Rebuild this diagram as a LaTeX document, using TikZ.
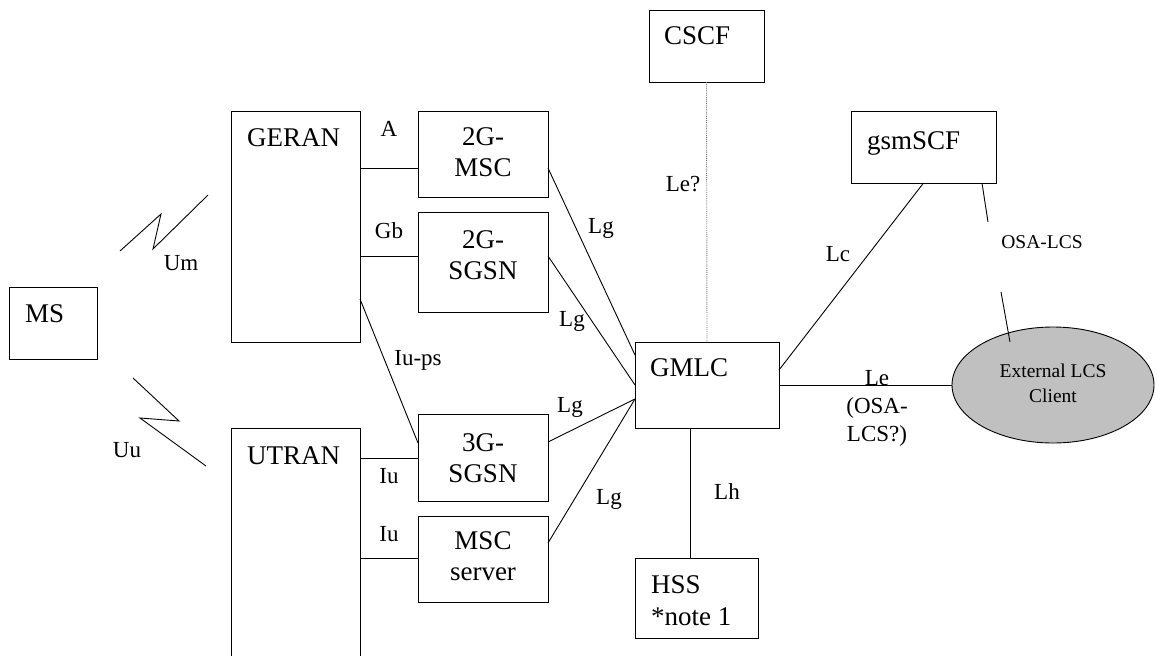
\documentclass[tikz,border=0pt]{standalone}
\usepackage{fontspec}
\setmainfont{Liberation Serif}
\usetikzlibrary{shapes.geometric,calc}
\definecolor{clientgray}{RGB}{192,192,192}
\begin{document}
\begin{tikzpicture}[x=1pt,y=-1pt,
  box/.style={draw,line width=0.9pt,inner sep=0pt,outer sep=0pt,anchor=north west},
  boxtext/.style={font=\fontsize{27}{31}\selectfont,inner sep=0pt},
  lbl/.style={font=\fontsize{23}{28}\selectfont,inner sep=0pt},
  smalltext/.style={font=\fontsize{19.5}{25}\selectfont,inner sep=0pt},
  link/.style={line width=0.9pt},
  dotlink/.style={line width=0.9pt,densely dotted,black!55}]
\useasboundingbox (0,0) rectangle (1157,656);

% boxes
\node[box,minimum width=88pt,minimum height=72pt] (ms) at (9,287) {};
\node[box,minimum width=129pt,minimum height=231pt] (geran) at (231,111) {};
\node[box,minimum width=129pt,minimum height=252pt] (utran) at (231,428) {};
\node[box,minimum width=130pt,minimum height=86pt] (msc2) at (418,111) {};
\node[box,minimum width=130pt,minimum height=100pt] (sgsn2) at (418,212) {};
\node[box,minimum width=130pt,minimum height=87pt] (sgsn3) at (418,414) {};
\node[box,minimum width=130pt,minimum height=86pt] (mscs) at (418,516) {};
\node[box,minimum width=144pt,minimum height=86pt] (gmlc) at (635,342) {};
\node[box,minimum width=123pt,minimum height=80pt] (hss) at (635,558) {};
\node[box,minimum width=115pt,minimum height=72pt] (cscf) at (649,10) {};
\node[box,minimum width=145pt,minimum height=72pt] (gsmscf) at (851,111) {};

% box texts
\node[boxtext,anchor=base west] (msT) at (25,322) {MS};
\node[boxtext,anchor=base west] (geranT) at (247,146) {GERAN};
\node[boxtext,anchor=base west] (utranT) at (247,464) {UTRAN};
\node[boxtext,align=center] (msc2T) at (483,152.5) {2G-\\MSC};
\node[boxtext,align=center] (sgsn2T) at (483,255) {2G-\\SGSN};
\node[boxtext,align=center] (sgsn3T) at (483,458) {3G-\\SGSN};
\node[boxtext,align=center] (mscsT) at (483,556.5) {MSC\\server};
\node[boxtext,anchor=base west] (gmlcT) at (650,376) {GMLC};
\node[boxtext,anchor=base west] (cscfT) at (664,44) {CSCF};
\node[boxtext,anchor=base west] (gsmscfT) at (867,149) {gsmSCF};
\node[boxtext,align=left,anchor=west,font=\fontsize{27}{32}\selectfont] (hssT) at (651,601) {HSS\\*note 1};

% external client
\node[ellipse,draw,line width=0.9pt,fill=clientgray,minimum width=202pt,minimum height=116pt,inner sep=0pt] (client) at (1053,385) {};
\node[smalltext,align=center] (clientT) at (1053,383) {External LCS\\Client};

% connectors
\draw[link] ([yshift=-57pt]geran.north east) -- ([yshift=-57pt]msc2.north west);
\draw[link] ([yshift=-145pt]geran.north east) -- ([yshift=-44pt]sgsn2.north west);
\draw[link] ([yshift=-188pt]geran.north east) -- ([yshift=-29pt]sgsn3.north west);
\draw[link] ([yshift=-30pt]utran.north east) -- ([yshift=-44pt]sgsn3.north west);
\draw[link] ([yshift=-130pt]utran.north east) -- ([yshift=-42pt]mscs.north west);
\draw[link] ([yshift=-57pt]msc2.north east) -- ([yshift=-13pt]gmlc.north west);
\draw[link] ([yshift=-44pt]sgsn2.north east) -- (gmlc.west);
\draw[link] ([yshift=-28pt]sgsn3.north east) -- ([yshift=-57pt]gmlc.north west);
\draw[link] ([yshift=-27pt]mscs.north east) -- ([yshift=-57pt]gmlc.north west);
\draw[dotlink] (cscf.south) -- (gmlc.north);
\draw[link] (gsmscf.south) -- ([yshift=-28pt]gmlc.north east);
\draw[link] (gmlc.east) -- (client.west);
\draw[link] ([xshift=55pt]gmlc.south west) -- ([xshift=55pt]hss.north west);
\coordinate (osaA) at (988,222);
\coordinate (osaB) at (1001,292);
\draw[link] ([xshift=131pt]gsmscf.south west) -- (osaA);
\draw[link] (osaB) -- ($(client.center)+(-43,-43)$);

% radio links
\draw[link] (120,251) -- (161,214) -- (153,249) -- (208,195);
\draw[link] (133,378) -- (179,421) -- (140,418) -- (206,466);

% labels
\node[lbl,anchor=base] (lA) at (389,136) {A};
\node[lbl,anchor=base] (lGb) at (389,238) {Gb};
\node[lbl,anchor=base] (lLg1) at (601,233) {Lg};
\node[lbl,anchor=base] (lLg2) at (572,326) {Lg};
\node[lbl,anchor=base] (lLg3) at (570,412) {Lg};
\node[lbl,anchor=base] (lLg4) at (609,504) {Lg};
\node[lbl,anchor=base] (lIups) at (418,365) {Iu-ps};
\node[lbl,anchor=base] (lIu1) at (389,483) {Iu};
\node[lbl,anchor=base] (lIu2) at (389,541) {Iu};
\node[lbl,anchor=base] (lLeq) at (683,191) {Le?};
\node[lbl,anchor=base] (lLc) at (838,261) {Lc};
\node[lbl,anchor=base] (lLh) at (727,499) {Lh};
\node[lbl,align=center] (lLe) at (877,408) {Le\\(OSA-\\LCS?)};
\node[lbl,anchor=base] (lUm) at (181,270) {Um};
\node[lbl,anchor=base] (lUu) at (127,457) {Uu};
\node[smalltext,anchor=base] (lOsa) at (1042,248.5) {OSA-LCS};
\end{tikzpicture}
\end{document}
